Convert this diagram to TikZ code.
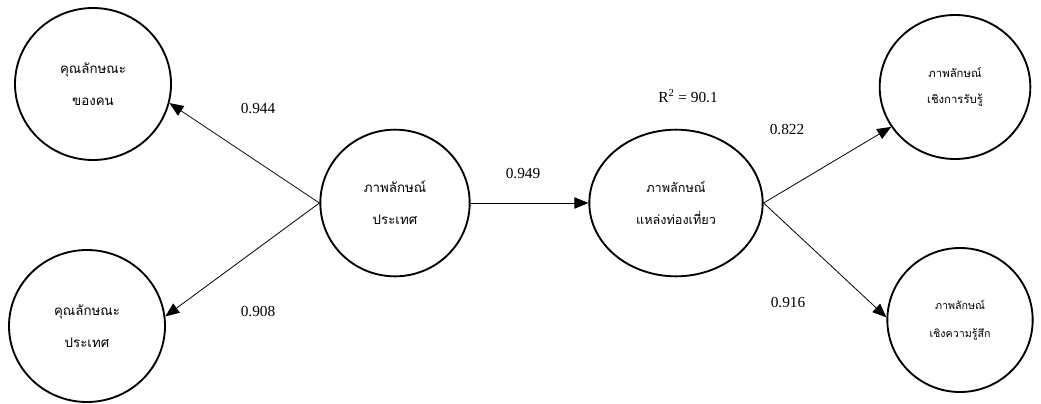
\documentclass[tikz,border=0pt]{standalone}
\usepackage{fontspec}
\setmainfont{Liberation Serif}
\newfontfamily\thaifont[Script=Thai]{Loma}
\usetikzlibrary{shapes.geometric,arrows.meta}

\tikzset{
  construct/.style={ellipse, draw, line width=1.4pt, inner sep=0pt,
    align=center, font=\thaifont\fontsize{10}{24}\selectfont},
  path/.style={line width=0.6pt, -{Triangle[length=10.5pt,width=8.5pt]}},
  coef/.style={font=\fontsize{11.5}{13}\selectfont, inner sep=0pt}
}

\begin{document}
\begin{tikzpicture}[x=0.75pt, y=-0.75pt]
\useasboundingbox (0,0) rectangle (1041,403);

% latent variables
\node[construct, minimum width=117pt, minimum height=114pt] (people) at (93,84)
  {คุณลักษณะ\\ของคน};
\node[construct, minimum width=117pt, minimum height=114pt] (country) at (87,326)
  {คุณลักษณะ\\ประเทศ};
\node[construct, minimum width=112pt, minimum height=110pt] (cimage) at (395,203)
  {ภาพลักษณ์\\ประเทศ};
\node[construct, minimum width=130pt, minimum height=110pt,
  font=\thaifont\fontsize{9.5}{24}\selectfont] (dimage) at (676,203)
  {ภาพลักษณ์\\แหล่งท่องเที่ยว};
\node[construct, minimum width=113pt, minimum height=108pt,
  font=\thaifont\fontsize{8.5}{20}\selectfont] (cognitive) at (955,87)
  {ภาพลักษณ์\\เชิงการรับรู้};
\node[construct, minimum width=109pt, minimum height=108pt,
  font=\thaifont\fontsize{8}{21}\selectfont] (affective) at (960,320)
  {ภาพลักษณ์\\เชิงความรู้สึก};

% structural and measurement paths
\draw[path] (cimage.west) -- (people.-14);
\draw[path] (cimage.west) -- (country.7);
\draw[path] (cimage.east) -- (dimage.west);
\draw[path] (dimage.east) -- (cognitive.212);
\draw[path] (dimage.east) -- (affective.178);

% coefficients
\node[coef] (l1) at (258,109) {0.944};
\node[coef] (l2) at (258,312) {0.908};
\node[coef] (l3) at (523,174) {0.949};
\node[coef] (r2) at (688,96) {R\textsuperscript{2} = 90.1};
\node[coef] (l4) at (787,130) {0.822};
\node[coef] (l5) at (788,303) {0.916};
\end{tikzpicture}
\end{document}
